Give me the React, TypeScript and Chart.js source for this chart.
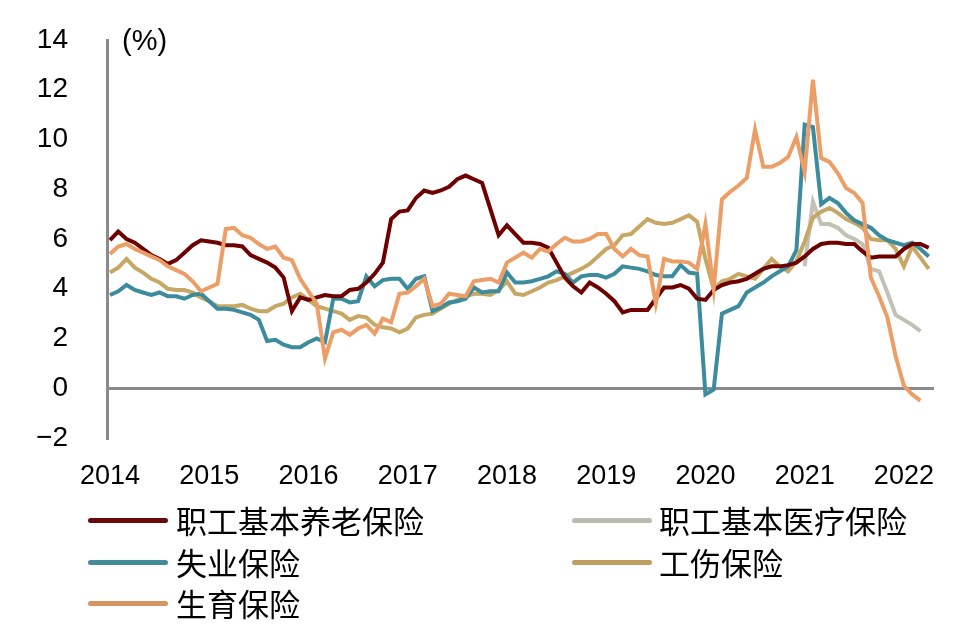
import React, { useEffect, useRef } from 'react';
import { Chart, registerables } from 'chart.js';

Chart.register(...registerables);

// Year tick labels (one per January, monthly data from Jan 2014)
const years = ['2014', '2015', '2016', '2017', '2018', '2019', '2020', '2021', '2022'];

// 职工基本养老保险 (monthly, from Jan 2014)
const pension = [
  5.95, 6.3, 6.0, 5.85, 5.6, 5.35, 5.2, 5.0, 5.15, 5.45, 5.75, 5.95,
  5.9, 5.85, 5.75, 5.75, 5.7, 5.35, 5.2, 5.05, 4.85, 4.45, 3.1, 3.65,
  3.55, 3.65, 3.75, 3.7, 3.7, 3.95, 4.0, 4.25, 4.6, 5.05, 6.8, 7.1,
  7.15, 7.65, 7.95, 7.85, 7.95, 8.1, 8.4, 8.55, 8.4, 8.25, 7.2, 6.15,
  6.55, 6.2, 5.85, 5.85, 5.8, 5.65, 5.05, 4.45, 4.1, 3.85, 4.25, 4.05,
  3.8, 3.5, 3.05, 3.15, 3.15, 3.15, 3.6, 4.05, 4.05, 4.15, 4.0, 3.6,
  3.55, 3.95, 4.15, 4.25, 4.3, 4.4, 4.6, 4.8, 4.9, 4.9, 4.95, 5.05,
  5.3, 5.6, 5.8, 5.85, 5.85, 5.8, 5.8, 5.5, 5.25, 5.3, 5.3, 5.3,
  5.6, 5.8, 5.8, 5.65,
];

// 职工基本医疗保险 (starts Jan 2021)
const medicalStart = 84;
const medical = [4.9, 7.5, 6.6, 6.6, 6.45, 6.15, 6.0, 5.8, 4.8, 4.7, 3.85, 2.95, 2.75, 2.55, 2.3];

// 失业保险
const unemployment = [
  3.75, 3.9, 4.15, 3.95, 3.85, 3.75, 3.85, 3.7, 3.7, 3.6, 3.75, 3.8,
  3.5, 3.2, 3.2, 3.15, 3.05, 2.95, 2.75, 1.9, 1.95, 1.75, 1.65, 1.65,
  1.85, 2.0, 1.85, 3.6, 3.6, 3.45, 3.5, 4.5, 4.1, 4.35, 4.4, 4.4,
  4.0, 4.4, 4.5, 3.1, 3.25, 3.45, 3.5, 3.6, 4.05, 3.85, 3.9, 3.9,
  4.65, 4.25, 4.25, 4.3, 4.4, 4.5, 4.7, 4.6, 4.25, 4.5, 4.55, 4.55,
  4.45, 4.6, 4.9, 4.85, 4.8, 4.7, 4.55, 4.5, 4.5, 4.95, 4.65, 4.6,
  -0.25, -0.05, 3.0, 3.15, 3.3, 3.85, 4.05, 4.25, 4.5, 4.7, 4.9, 5.55,
  10.6, 10.5, 7.4, 7.65, 7.45, 7.05, 6.75, 6.6, 6.45, 6.15, 5.95, 5.85,
  5.75, 5.85, 5.6, 5.3,
];

// 工伤保险
const injury = [
  4.65, 4.85, 5.2, 4.85, 4.65, 4.4, 4.25, 4.0, 3.95, 3.95, 3.85, 3.65,
  3.5, 3.3, 3.3, 3.3, 3.35, 3.2, 3.1, 3.1, 3.3, 3.4, 3.65, 3.8,
  3.55, 3.3, 3.2, 3.1, 3.0, 2.75, 2.9, 2.85, 2.55, 2.45, 2.4, 2.25,
  2.4, 2.85, 2.95, 3.0, 3.2, 3.4, 3.55, 3.7, 3.8, 3.8, 3.75, 3.95,
  4.3, 3.8, 3.75, 3.9, 4.05, 4.25, 4.35, 4.5, 4.65, 4.8, 5.0, 5.3,
  5.6, 5.75, 6.15, 6.2, 6.5, 6.8, 6.65, 6.6, 6.65, 6.8, 6.95, 6.7,
  5.2, 4.0, 4.3, 4.4, 4.6, 4.5, 4.4, 4.8, 5.2, 4.9, 4.7, 5.1,
  5.9, 6.85, 7.1, 7.25, 7.05, 6.8, 6.65, 6.45, 6.0, 5.95, 5.95, 5.6,
  4.9, 5.7, 5.25, 4.8,
];

// 生育保险
const maternity = [
  5.4, 5.7, 5.8, 5.6, 5.45, 5.3, 5.15, 4.9, 4.75, 4.6, 4.3, 3.9,
  4.05, 4.2, 6.4, 6.45, 6.15, 6.05, 5.8, 5.6, 5.7, 5.25, 5.15, 4.4,
  3.9, 3.4, 1.2, 2.25, 2.35, 2.15, 2.4, 2.55, 2.2, 2.8, 2.65, 3.8,
  3.85, 4.1, 4.4, 3.3, 3.4, 3.8, 3.75, 3.7, 4.3, 4.35, 4.4, 4.25,
  5.05, 5.25, 5.45, 5.25, 5.6, 5.5, 5.8, 6.05, 5.9, 5.9, 6.0, 6.2,
  6.2, 5.6, 5.3, 5.6, 5.35, 5.3, 3.4, 5.2, 5.1, 5.1, 5.05, 4.8,
  6.6, 4.0, 7.6, 7.9, 8.15, 8.45, 10.4, 8.9, 8.9, 9.05, 9.3, 10.1,
  8.7, 12.4, 9.25, 9.1, 8.65, 8.05, 7.85, 7.45, 4.45, 3.7, 2.85, 1.3,
  0.1, -0.25, -0.5,
];

const seriesNames = ['职工基本养老保险', '职工基本医疗保险', '失业保险', '工伤保险', '生育保险'];
const lineColors = ['#6e0000', '#c3c1b6', '#3c8c9e', '#c6a763', '#ec9e66'];
const legendColors = ['#6b0a0a', '#bdbbae', '#458a99', '#bf9f62', '#d99463'];

const toPoints = (arr: number[], start = 0) => arr.map((v, i) => ({ x: start + i, y: v }));

export default function App() {
  const ref = useRef<HTMLCanvasElement | null>(null);

  useEffect(() => {
    if (!ref.current) return;
    const axisGray = '#8a8a8a';
    const unitPlugin = {
      id: 'unitLabel',
      afterDraw(chart: any) {
        const { ctx, chartArea } = chart;
        ctx.save();
        ctx.font = '29px "Liberation Sans", sans-serif';
        ctx.fillStyle = '#000';
        ctx.textBaseline = 'middle';
        ctx.textAlign = 'left';
        ctx.fillText('(%)', chartArea.left + 15, 42);
        ctx.restore();
      },
    };
    const mk = (i: number, data: any[], z: number) => ({
      label: seriesNames[i],
      data,
      borderColor: lineColors[i],
      backgroundColor: lineColors[i],
      borderWidth: 4,
      pointRadius: 0,
      tension: 0,
      fill: false,
      order: z,
    });
    const chart = new Chart(ref.current, {
      type: 'line',
      data: {
        datasets: [
          mk(1, toPoints(medical, medicalStart), 5),
          mk(3, toPoints(injury), 4),
          mk(2, toPoints(unemployment), 3),
          mk(0, toPoints(pension), 2),
          mk(4, toPoints(maternity), 1),
        ],
      },
      options: {
        responsive: false,
        animation: false,
        events: [],
        layout: { padding: { top: 40, right: 44, left: 0, bottom: 0 } },
        plugins: { legend: { display: false }, tooltip: { enabled: false } },
        scales: {
          x: {
            type: 'linear',
            min: -0.36,
            max: 99.64,
            afterBuildTicks: (scale: any) => {
              scale.ticks = years.map((_, i) => ({ value: i * 12 }));
            },
            afterFit: (scale: any) => {
              scale.height = 62;
            },
            grid: { display: false, drawTicks: false },
            border: { display: false },
            ticks: {
              autoSkip: false,
              maxRotation: 0,
              padding: 22,
              color: '#000',
              font: { family: '"Liberation Sans", Arial, sans-serif', size: 27 },
              callback: (v: any) => years[Math.round(Number(v) / 12)] ?? '',
            },
          },
          y: {
            min: -2,
            max: 14,
            afterFit: (scale: any) => {
              scale.width = 107;
            },
            ticks: {
              stepSize: 2,
              padding: 0,
              color: '#000',
              font: { family: '"Liberation Sans", Arial, sans-serif', size: 28 },
              callback: (v: any) => (Number(v) < 0 ? '\u2212' + Math.abs(Number(v)) : String(v)),
            },
            grid: {
              drawTicks: true,
              tickLength: 39,
              tickColor: 'rgba(0,0,0,0)',
              lineWidth: 3,
              color: (ctx: any) => (ctx.tick && ctx.tick.value === 0 ? axisGray : 'rgba(0,0,0,0)'),
            },
            border: { display: true, color: axisGray, width: 3 },
          },
        },
      },
      plugins: [unitPlugin],
    } as any);
    return () => chart.destroy();
  }, []);

  const legendItems = [
    { i: 0, left: 88, textLeft: 176, y: 520 },
    { i: 1, left: 572, textLeft: 659, y: 520 },
    { i: 2, left: 88, textLeft: 176, y: 562 },
    { i: 3, left: 572, textLeft: 659, y: 562 },
    { i: 4, left: 88, textLeft: 176, y: 603 },
  ];

  return (
    <div style={{ position: 'absolute', left: 0, top: 0, width: 978, height: 631, background: '#fff', overflow: 'hidden' }}>
      <canvas ref={ref} width={978} height={500} style={{ position: 'absolute', left: 0, top: 0 }} />
      {legendItems.map((it) => (
        <React.Fragment key={it.i}>
          <div
            style={{
              position: 'absolute',
              left: it.left,
              top: it.y - 2.5,
              width: 80,
              height: 5,
              borderRadius: 2.5,
              background: legendColors[it.i],
            }}
          />
          <div
            style={{
              position: 'absolute',
              left: it.textLeft,
              top: it.y - 20,
              height: 40,
              lineHeight: '40px',
              fontSize: 31,
              fontFamily: '"Noto Sans CJK SC", sans-serif',
              color: '#000',
              whiteSpace: 'nowrap',
            }}
          >
            {seriesNames[it.i]}
          </div>
        </React.Fragment>
      ))}
    </div>
  );
}
